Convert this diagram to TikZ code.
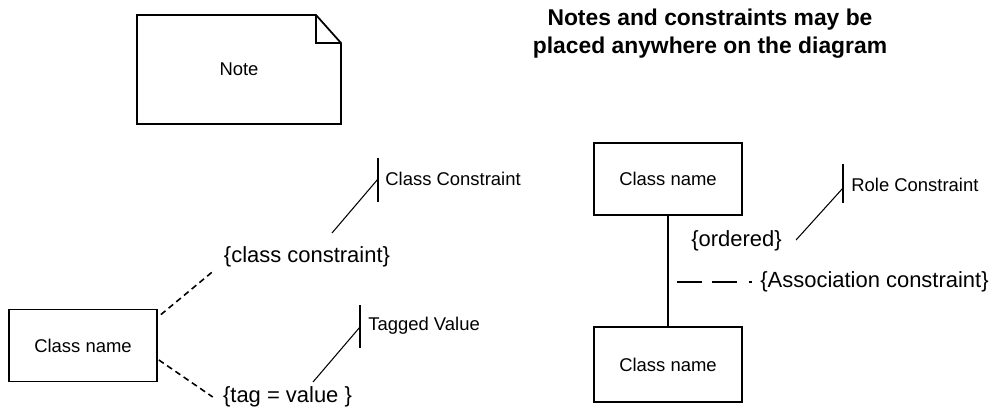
\documentclass[tikz,border=0pt]{standalone}
\usepackage{fontspec}
\setmainfont{Liberation Sans}
\usetikzlibrary{calc}

\tikzset{
	classbox/.style={draw, line width=1pt, minimum width=2.96cm, minimum height=1.44cm, inner sep=0pt, font=\fontsize{10.5}{12}\selectfont},
	constr/.style={inner sep=0pt, font=\fontsize{12.5}{15}\selectfont},
	pinlabel/.style={anchor=west, inner sep=0pt, font=\fontsize{10.5}{12}\selectfont},
	pinline/.style={line width=0.6pt},
	pinbar/.style={line width=1pt},
	constrline/.style={line width=0.9pt, dash pattern=on 3.4pt off 2.3pt}
}

\begin{document}
\begin{tikzpicture}[x=0.02cm, y=-0.02cm]
		\useasboundingbox (0,0) rectangle (1000,415);

		% note
		\draw [line width=1pt] (137,15) -- (316,15) -- (341,43) -- (341,124) -- (137,124) -- cycle;
		\draw [line width=1pt] (316,15) -- (316,43) -- (341,43);
		\node [font=\fontsize{10.5}{12}\selectfont] (note) at (239,69) {Note};

		\node [align=center, font=\fontsize{13}{16}\bfseries\selectfont] (title) at (710,34) {Notes and constraints may be\\placed anywhere on the diagram};

		% left class
		\node [classbox] (lclass) at (83,345.5) {Class name};
		\node [constr] (ccons) at (307,257) {\{class constraint\}};
		\node [constr] (tagval) at (287.5,397) {\{tag = value \}};

		\draw [constrline] ($(lclass.north east)+(3,6)$) -- ($(ccons.west)+(-9,13)$);
		\draw [constrline] ($(lclass.east)+(1,14.5)$) -- ($(tagval.west)+(-10,0)$);

		\node [pinlabel] (cclab) at (385,179) {Class Constraint};
		\coordinate (ccbar) at ($(cclab.west)+(-7,0)$);
		\draw [pinbar] ($(ccbar)+(0,-21)$) -- ($(ccbar)+(0,23)$);
		\draw [pinline] (ccbar) -- ($(ccons.center)+(25,-24)$);

		\node [pinlabel] (tvlab) at (368,326) {Tagged Value};
		\coordinate (tvbar) at ($(tvlab.west)+(-8,1)$);
		\draw [pinbar] ($(tvbar)+(0,-22)$) -- ($(tvbar)+(0,21)$);
		\draw [pinline] (tvbar) -- ($(tagval.center)+(25.5,-15)$);

		% right association
		\node [classbox] (upclass) at (668,179) {Class name};
		\node [classbox, minimum height=1.5cm] (lowclass) at (668,364.5) {Class name};
		\draw [line width=1pt] (upclass.south) -- (lowclass.north);

		\node [constr] (ordered) at (736.5,241) {\{ordered\}};
		\node [pinlabel] (rolelab) at (851,185) {Role Constraint};
		\coordinate (rolebar) at ($(rolelab.west)+(-8,3)$);
		\draw [pinbar] ($(rolebar)+(0,-24)$) -- ($(rolebar)+(0,15)$);
		\draw [pinline] (rolebar) -- ($(ordered.east)+(14,-1)$);

		\node [constr, anchor=west] (assoc) at (760,282) {\{Association constraint\}};
		\draw [line width=1.7pt] ($(assoc.west)+(-83,0)$) -- ($(assoc.west)+(-58,0)$);
		\draw [line width=1.7pt] ($(assoc.west)+(-48,0)$) -- ($(assoc.west)+(-23,0)$);
		\draw [line width=1.7pt] ($(assoc.west)+(-11.5,0)$) -- ($(assoc.west)+(-8.5,0)$);

		\end{tikzpicture}
\end{document}
